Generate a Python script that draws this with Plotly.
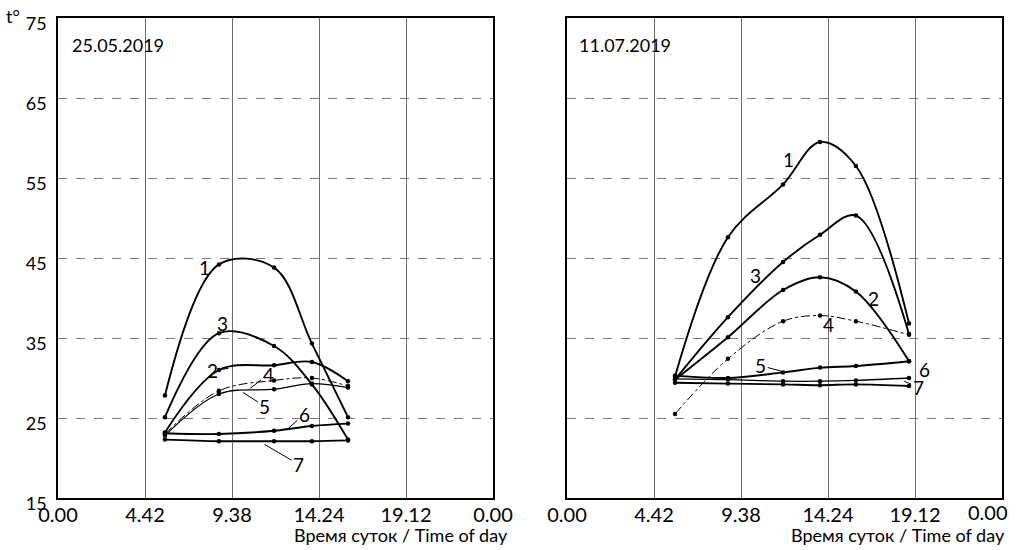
import plotly.graph_objects as go

# ---------------- data ----------------
tick_vals = [0, 4.8, 9.6, 14.4, 19.2, 24]
tick_text = ["0.00", "4.42", "9.38", "14.24", "19.12", "0.00"]
y_ticks = [15, 25, 35, 45, 55, 65, 75]

# Panel A: 25.05.2019
hours_a = [5.9, 8.88, 11.92, 14.01, 16.0]
a1 = [27.8, 44.2, 43.8, 34.3, 25.1]
a2 = [23.2, 31.0, 31.6, 32.0, 29.6]
a3 = [25.1, 35.6, 34.0, 29.2, 22.3]
a4 = [23.0, 28.4, 29.7, 30.0, 29.0]
a5 = [22.8, 28.0, 28.6, 29.3, 28.8]
a6 = [23.1, 23.0, 23.4, 24.0, 24.3]
a7 = [22.3, 22.1, 22.1, 22.1, 22.2]

# Panel B: 11.07.2019
hours_b = [5.96, 8.88, 11.92, 13.96, 15.94, 18.87]
b1 = [30.2, 47.6, 54.2, 59.5, 56.5, 36.8]
b2 = [29.8, 35.1, 41.0, 42.6, 40.8, 32.1]
b3 = [29.8, 37.6, 44.5, 47.9, 50.3, 35.5]
b4 = [25.5, 32.4, 37.1, 37.8, 37.1, 35.4]
b5 = [29.9, 29.8, 29.6, 29.6, 29.7, 30.0]
b6 = [30.3, 30.0, 30.7, 31.3, 31.5, 32.1]
b7 = [29.4, 29.3, 29.2, 29.1, 29.2, 29.0]

panel_dates = ["25.05.2019", "11.07.2019"]
x_title = "Время суток / Time of day"

series_a = {"1": a1, "2": a2, "3": a3, "4": a4, "5": a5, "6": a6, "7": a7}
series_b = {"1": b1, "2": b2, "3": b3, "4": b4, "5": b5, "6": b6, "7": b7}

styles = {
    "1": dict(width=1.9, dash="solid"),
    "2": dict(width=1.9, dash="solid"),
    "3": dict(width=1.9, dash="solid"),
    "4": dict(width=1.0, dash="dashdot"),
    "5": dict(width=1.3, dash="solid"),
    "6": dict(width=1.9, dash="solid"),
    "7": dict(width=1.9, dash="solid"),
}

FONT = "Lato"
fig = go.Figure()

for xa, ya, hrs, ser in [("x", "y", hours_a, series_a), ("x2", "y2", hours_b, series_b)]:
    for name, vals in ser.items():
        st = styles[name]
        fig.add_trace(go.Scatter(
            x=hrs, y=vals, xaxis=xa, yaxis=ya, mode="lines+markers",
            line=dict(color="black", width=st["width"], dash=st["dash"], shape="spline", smoothing=1.0),
            marker=dict(color="black", size=4.5),
            showlegend=False, name=name))

# the page body margin is removed (see post_script), so the figure fills the window
W, H = 1016, 550
def px_x(p): return p / W
def px_y(p): return 1 - p / H

axis_common = dict(range=[0, 24], tickvals=tick_vals,
                   showgrid=True, gridcolor="#6e6e6e", gridwidth=1.3,
                   showline=True, linecolor="black", linewidth=1.6, mirror=True,
                   ticks="", zeroline=False, automargin=False,
                   ticklabeloverflow="allow", ticklabelstandoff=-2,
                   tickfont=dict(family=FONT, size=20, color="black"))
yaxis_common = dict(range=[15, 75], tickvals=y_ticks,
                    showgrid=True, gridcolor="#7a7a7a", gridwidth=1.3, griddash="dash",
                    showline=True, linecolor="black", linewidth=1.6, mirror=True,
                    ticks="", zeroline=False, automargin=False,
                    ticklabeloverflow="allow",
                    tickfont=dict(family=FONT, size=18, color="black"))

right_ticktext = tick_text[:-1] + [""]

fig.update_layout(
    width=W, height=H,
    margin=dict(l=0, r=0, t=0, b=0, autoexpand=False),
    paper_bgcolor="white", plot_bgcolor="white",
    font=dict(family=FONT, color="black"),
    xaxis=dict(axis_common, ticktext=tick_text, domain=[px_x(58), px_x(493)], anchor="y"),
    yaxis=dict(yaxis_common, domain=[px_y(498), px_y(18)], anchor="x",
               ticklabelstandoff=6, ticklabelshift=6),
    xaxis2=dict(axis_common, ticktext=right_ticktext, domain=[px_x(567), px_x(1002)], anchor="y2"),
    yaxis2=dict(yaxis_common, domain=[px_y(498), px_y(18)], anchor="x2",
                showticklabels=False),
)

ann = []
ann.append(dict(xref="paper", yref="paper", x=px_x(70), y=px_y(45), text=panel_dates[0],
                showarrow=False, xanchor="left", yanchor="middle", font=dict(size=18, family=FONT)))
ann.append(dict(xref="paper", yref="paper", x=px_x(577), y=px_y(45), text=panel_dates[1],
                showarrow=False, xanchor="left", yanchor="middle", font=dict(size=18, family=FONT)))
ann.append(dict(xref="paper", yref="paper", x=px_x(4), y=px_y(16), text="t°",
                showarrow=False, xanchor="left", yanchor="middle", font=dict(size=18, family=FONT)))
# last tick label of the right panel, pulled inside the window edge
ann.append(dict(xref="paper", yref="paper", x=px_x(1010), y=px_y(512), text=tick_text[-1],
                showarrow=False, xanchor="right", yanchor="middle", font=dict(size=20, family=FONT)))
ann.append(dict(xref="paper", yref="paper", x=px_x(510), y=px_y(535), text=x_title,
                showarrow=False, xanchor="right", yanchor="middle", font=dict(size=18, family=FONT)))
ann.append(dict(xref="paper", yref="paper", x=px_x(1007), y=px_y(535), text=x_title,
                showarrow=False, xanchor="right", yanchor="middle", font=dict(size=18, family=FONT)))

lab_font = dict(size=19, family=FONT, color="black")
def label(xr, yr, x, y, text, ax=None, ay=None):
    if ax is None:
        ann.append(dict(xref=xr, yref=yr, x=x, y=y, text=text, showarrow=False, font=lab_font))
    else:
        ann.append(dict(xref=xr, yref=yr, x=x, y=y, text=text, showarrow=True, arrowhead=0,
                        arrowwidth=1, arrowcolor="black", ax=ax, ay=ay, font=lab_font))

# left panel labels
label("x", "y", 8.1, 43.8, "1")
label("x", "y", 9.05, 36.8, "3")
label("x", "y", 9.4, 31.2, "2", ax=-16, ay=2)
label("x", "y", 10.6, 28.7, "4", ax=18, ay=-14)
label("x", "y", 10.2, 28.2, "5", ax=22, ay=14)
label("x", "y", 12.6, 23.5, "6", ax=18, ay=-16)
label("x", "y", 11.4, 21.7, "7", ax=34, ay=20)

# right panel labels
label("x2", "y2", 12.2, 57.3, "1")
label("x2", "y2", 10.4, 42.8, "3")
label("x2", "y2", 16.9, 40.0, "2")
label("x2", "y2", 14.4, 36.7, "4")
label("x2", "y2", 11.9, 30.8, "5", ax=-22, ay=-6)
label("x2", "y2", 19.75, 31.1, "6")
label("x2", "y2", 18.6, 29.6, "7", ax=14, ay=6)

fig.update_layout(annotations=ann)
fig.write_html("out.html", config={"displayModeBar": False},
               post_script="document.body.style.margin='0px';document.body.style.overflow='hidden';")
